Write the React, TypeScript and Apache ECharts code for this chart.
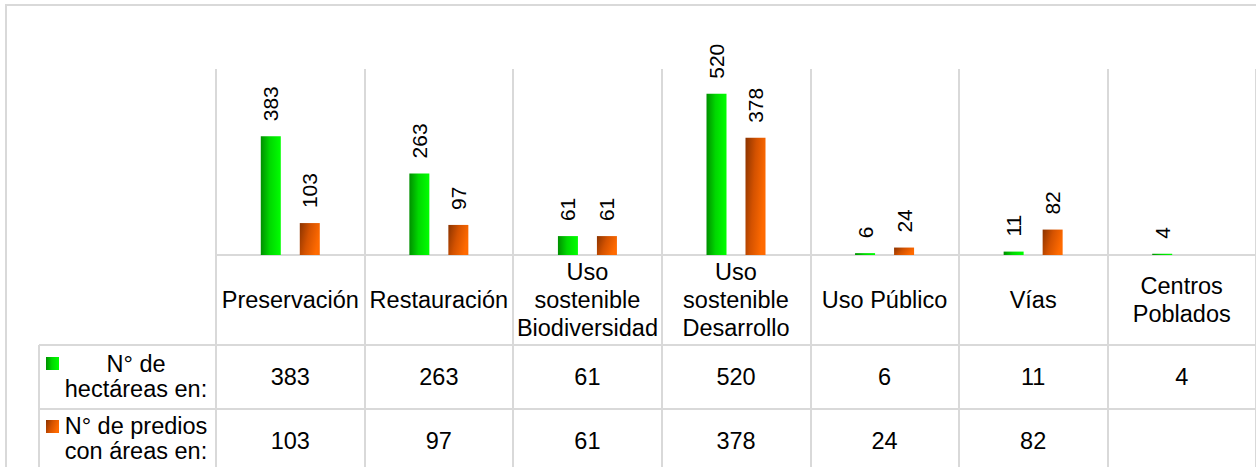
import React, { useEffect, useRef } from "react";
import * as echarts from "echarts";

const categories = [
  "Preservación",
  "Restauración",
  "Uso\nsostenible\nBiodiversidad",
  "Uso\nsostenible\nDesarrollo",
  "Uso Público",
  "Vías",
  "Centros\nPoblados",
];
const hectareas: (number | null)[] = [383, 263, 61, 520, 6, 11, 4];
const predios: (number | null)[] = [103, 97, 61, 378, 24, 82, null];
const seriesNames = ["N° de\nhectáreas en:", "N° de predios\ncon áreas en:"];
const yMin = 0;
const yMax = 600;

const FONT = '"Liberation Sans", Arial, sans-serif';
const LINE = "#d9d9d9";

export default function App() {
  const ref = useRef<HTMLDivElement>(null);

  useEffect(() => {
    if (!ref.current) return;
    const chart = echarts.init(ref.current, undefined, { renderer: "svg" });

    const green = new echarts.graphic.LinearGradient(0, 0, 1, 0, [
      { offset: 0, color: "#008f00" },
      { offset: 0.45, color: "#00d800" },
      { offset: 1, color: "#00ff00" },
    ]);
    const orange = new echarts.graphic.LinearGradient(0, 0, 1, 0.35, [
      { offset: 0, color: "#8a3300" },
      { offset: 0.5, color: "#d45200" },
      { offset: 1, color: "#ff6a00" },
    ]);

    const barLabel = {
      show: true,
      position: "top",
      rotate: 90,
      align: "left",
      verticalAlign: "middle",
      distance: 15,
      fontSize: 21,
      fontFamily: FONT,
      color: "#000",
    };

    const tableAxis = (values: (number | null)[], offset: number) => ({
      type: "category",
      data: categories,
      position: "bottom",
      offset,
      boundaryGap: true,
      axisLine: { show: true, onZero: false, lineStyle: { color: LINE, width: 2 } },
      axisTick: { show: false },
      splitLine: { show: false },
      axisLabel: {
        interval: 0,
        margin: 32,
        fontSize: 23.5,
        fontFamily: FONT,
        color: "#000",
        verticalAlign: "middle",
        align: "center",
        formatter: (_v: string, i: number) => (values[i] == null ? "" : String(values[i])),
      },
    });

    const option: any = {
      animation: false,
      backgroundColor: "#ffffff",
      textStyle: { fontFamily: FONT },
      grid: { left: 216, top: 69, width: 1043, height: 186, containLabel: false },
      xAxis: [
        {
          type: "category",
          data: categories,
          position: "bottom",
          boundaryGap: true,
          axisLine: { show: true, lineStyle: { color: LINE, width: 2 } },
          axisTick: { show: true, length: 212, lineStyle: { color: LINE, width: 2 } },
          splitLine: { show: true, lineStyle: { color: LINE, width: 2 } },
          axisLabel: {
            interval: 0,
            margin: 45,
            fontSize: 23.5,
            lineHeight: 28,
            fontFamily: FONT,
            color: "#000",
            verticalAlign: "middle",
            align: "center",
          },
        },
        tableAxis(hectareas, 90),
        tableAxis(predios, 154),
      ],
      yAxis: {
        type: "value",
        min: yMin,
        max: yMax,
        show: false,
        splitLine: { show: false },
      },
      legend: [
        {
          data: [seriesNames[0]],
          left: 46,
          top: 357,
          padding: 0,
          icon: "rect",
          itemWidth: 13,
          itemHeight: 13,
          selectedMode: false,
          formatter: () => "",
        },
        {
          data: [seriesNames[1]],
          left: 46,
          top: 420,
          padding: 0,
          icon: "rect",
          itemWidth: 13,
          itemHeight: 13,
          selectedMode: false,
          formatter: () => "",
        },
      ],
      series: [
        {
          name: seriesNames[0],
          type: "bar",
          data: hectareas,
          barWidth: 20,
          barGap: "95%",
          itemStyle: { color: green },
          label: barLabel,
        },
        {
          name: seriesNames[1],
          type: "bar",
          data: predios,
          barWidth: 20,
          itemStyle: { color: orange },
          label: barLabel,
        },
      ],
      graphic: [
        { type: "line", silent: true, shape: { x1: 6, y1: 5, x2: 1256, y2: 5 }, style: { stroke: LINE, lineWidth: 2 } },
        { type: "line", silent: true, shape: { x1: 6, y1: 4, x2: 6, y2: 467 }, style: { stroke: LINE, lineWidth: 2 } },
        { type: "line", silent: true, shape: { x1: 39, y1: 345, x2: 216, y2: 345 }, style: { stroke: LINE, lineWidth: 2 } },
        { type: "line", silent: true, shape: { x1: 39, y1: 409, x2: 216, y2: 409 }, style: { stroke: LINE, lineWidth: 2 } },
        { type: "line", silent: true, shape: { x1: 39, y1: 345, x2: 39, y2: 467 }, style: { stroke: LINE, lineWidth: 2 } },
        {
          type: "text",
          silent: true,
          x: 136,
          y: 376,
          style: {
            text: seriesNames[0],
            fontSize: 23.5,
            fontFamily: FONT,
            lineHeight: 25,
            align: "center",
            verticalAlign: "middle",
            fill: "#000",
          },
        },
        {
          type: "text",
          silent: true,
          x: 136,
          y: 438,
          style: {
            text: seriesNames[1],
            fontSize: 23.5,
            fontFamily: FONT,
            lineHeight: 25,
            align: "center",
            verticalAlign: "middle",
            fill: "#000",
          },
        },
      ],
    };

    chart.setOption(option);
    return () => chart.dispose();
  }, []);

  return (
    <div
      ref={ref}
      style={{ position: "fixed", left: 0, top: 0, width: 1256, height: 467, background: "#fff" }}
    />
  );
}
